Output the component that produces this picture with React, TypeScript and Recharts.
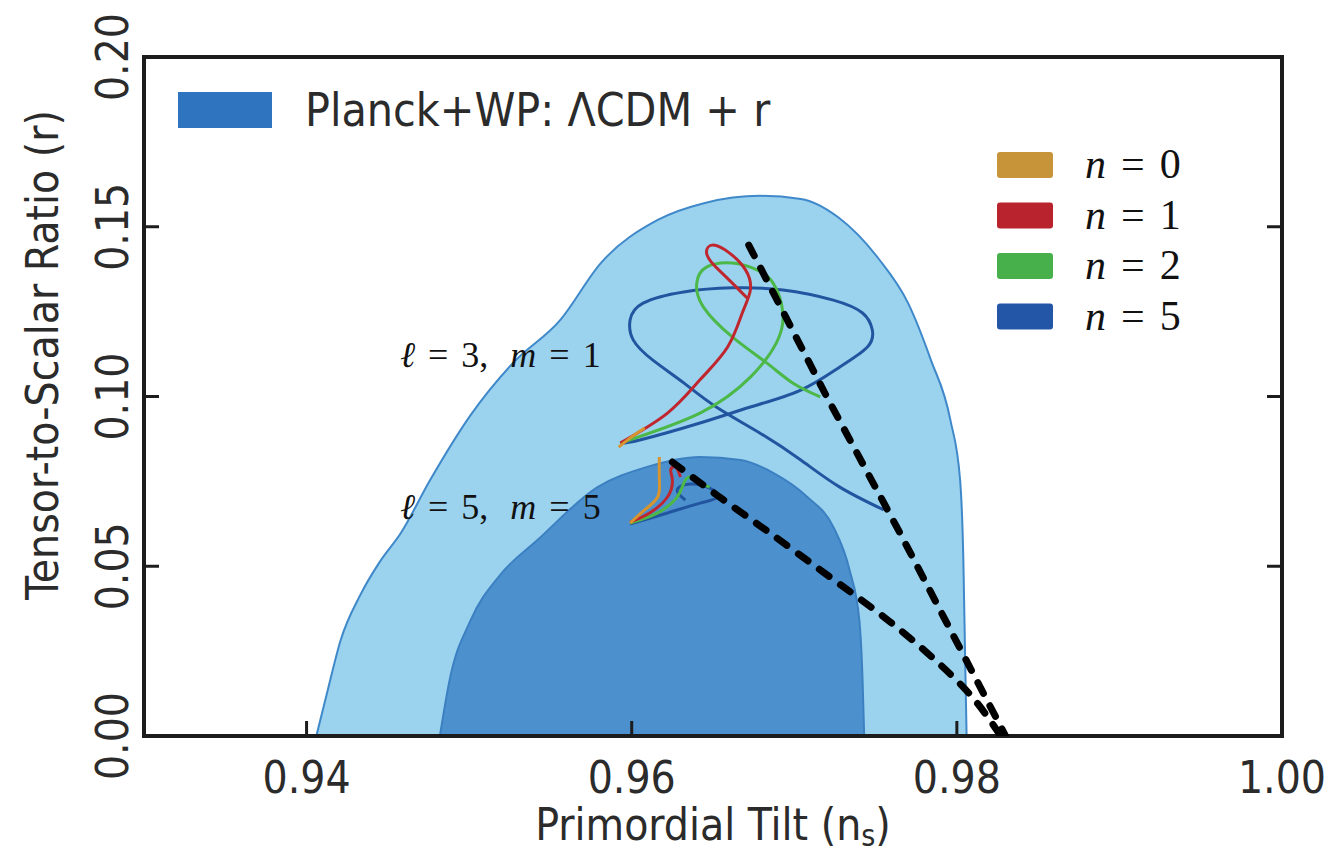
import { ComposedChart, Area, Line, XAxis, YAxis, ReferenceArea } from 'recharts';

/* ───────── Data ───────── */

const X_TICKS = [0.94, 0.96, 0.98, 1.0];
const Y_TICKS = [0, 0.05, 0.1, 0.15, 0.2];
const Y_TICKS_RIGHT = [0.05, 0.1, 0.15];

// Planck+WP contours, upper boundary (lower boundary is r = 0)
const CONTOUR_95 = [
  { ns: 0.9406, r: 0 }, { ns: 0.9413, r: 0.0135 }, { ns: 0.9421, r: 0.0283 },
  { ns: 0.9433, r: 0.0415 }, { ns: 0.9445, r: 0.0513 }, { ns: 0.9458, r: 0.0598 },
  { ns: 0.9476, r: 0.0754 }, { ns: 0.9501, r: 0.0946 }, { ns: 0.9527, r: 0.1099 },
  { ns: 0.9556, r: 0.1225 }, { ns: 0.9581, r: 0.1393 }, { ns: 0.9616, r: 0.152 },
  { ns: 0.9645, r: 0.157 }, { ns: 0.9679, r: 0.1591 }, { ns: 0.9704, r: 0.1582 },
  { ns: 0.9727, r: 0.1528 }, { ns: 0.9752, r: 0.1405 }, { ns: 0.977, r: 0.1275 },
  { ns: 0.9784, r: 0.1108 }, { ns: 0.9796, r: 0.0931 }, { ns: 0.9802, r: 0.0754 },
  { ns: 0.9804, r: 0.0518 }, { ns: 0.9805, r: 0.0253 }, { ns: 0.9806, r: 0 },
];

const CONTOUR_68 = [
  { ns: 0.9482, r: 0 }, { ns: 0.9488, r: 0.0165 }, { ns: 0.9501, r: 0.0342 },
  { ns: 0.9519, r: 0.0474 }, { ns: 0.9542, r: 0.0577 }, { ns: 0.9579, r: 0.0733 },
  { ns: 0.9609, r: 0.0792 }, { ns: 0.9642, r: 0.0822 }, { ns: 0.9667, r: 0.0813 },
  { ns: 0.9687, r: 0.0775 }, { ns: 0.9708, r: 0.0704 }, { ns: 0.9724, r: 0.0616 },
  { ns: 0.9734, r: 0.0489 }, { ns: 0.974, r: 0.0342 }, { ns: 0.9742, r: 0.0165 },
  { ns: 0.9743, r: 0 },
];

// dashed black lines
const DASH_UPPER = [
  { ns: 0.9672, r: 0.1446 }, { ns: 0.972, r: 0.0999 }, { ns: 0.9765, r: 0.0598 }, { ns: 0.983, r: 0 },
];
const DASH_LOWER = [
  { ns: 0.9625, r: 0.0807 }, { ns: 0.9654, r: 0.0704 }, { ns: 0.9685, r: 0.0598 },
  { ns: 0.9722, r: 0.0468 }, { ns: 0.9759, r: 0.0336 }, { ns: 0.979, r: 0.0209 },
  { ns: 0.9811, r: 0.0106 }, { ns: 0.9827, r: 0 },
];

// l = 3, m = 1 trajectories
const L3_N0 = [
  { ns: 0.9592, r: 0.0851 }, { ns: 0.96, r: 0.0881 }, { ns: 0.9608, r: 0.0907 },
];
const L3_N1 = [
  { ns: 0.9593, r: 0.0863 }, { ns: 0.9622, r: 0.0951 }, { ns: 0.9642, r: 0.1049 },
  { ns: 0.9659, r: 0.1146 }, { ns: 0.9668, r: 0.1246 }, { ns: 0.9673, r: 0.1314 },
  { ns: 0.967, r: 0.1373 }, { ns: 0.966, r: 0.1423 }, { ns: 0.965, r: 0.1446 },
  { ns: 0.9646, r: 0.1426 }, { ns: 0.965, r: 0.139 }, { ns: 0.966, r: 0.1343 },
  { ns: 0.9671, r: 0.129 },
];
const L3_N2 = [
  { ns: 0.9593, r: 0.0863 }, { ns: 0.9642, r: 0.0951 }, { ns: 0.9673, r: 0.1057 },
  { ns: 0.9689, r: 0.1158 }, { ns: 0.9693, r: 0.1246 }, { ns: 0.9687, r: 0.1334 },
  { ns: 0.9677, r: 0.1373 }, { ns: 0.9662, r: 0.1393 }, { ns: 0.9646, r: 0.1381 },
  { ns: 0.964, r: 0.1334 }, { ns: 0.9644, r: 0.1264 }, { ns: 0.9662, r: 0.1175 },
  { ns: 0.9683, r: 0.1099 }, { ns: 0.9699, r: 0.104 }, { ns: 0.9716, r: 0.0999 },
];
const L3_N5 = [
  { ns: 0.9593, r: 0.0863 }, { ns: 0.9605, r: 0.0872 }, { ns: 0.9642, r: 0.0922 },
  { ns: 0.9673, r: 0.0969 }, { ns: 0.9704, r: 0.1019 }, { ns: 0.9728, r: 0.1087 },
  { ns: 0.9745, r: 0.1146 }, { ns: 0.9748, r: 0.1196 }, { ns: 0.9742, r: 0.1246 },
  { ns: 0.9724, r: 0.1284 }, { ns: 0.9693, r: 0.1314 }, { ns: 0.9662, r: 0.132 },
  { ns: 0.9632, r: 0.1308 }, { ns: 0.9607, r: 0.1275 }, { ns: 0.9599, r: 0.1225 },
  { ns: 0.9601, r: 0.1166 }, { ns: 0.9613, r: 0.1107 }, { ns: 0.9632, r: 0.104 },
  { ns: 0.9652, r: 0.0969 }, { ns: 0.9679, r: 0.0892 }, { ns: 0.9704, r: 0.0813 },
  { ns: 0.9728, r: 0.0733 }, { ns: 0.9755, r: 0.0666 },
];

// l = 5, m = 5 trajectories
const L5_N0 = [
  { ns: 0.9599, r: 0.0627 }, { ns: 0.9608, r: 0.0666 }, { ns: 0.9616, r: 0.0704 },
  { ns: 0.9617, r: 0.0754 }, { ns: 0.9617, r: 0.0822 },
];
const L5_N1 = [
  { ns: 0.9599, r: 0.063 }, { ns: 0.9611, r: 0.0657 }, { ns: 0.9622, r: 0.0704 },
  { ns: 0.9625, r: 0.0754 }, { ns: 0.9624, r: 0.0784 }, { ns: 0.9627, r: 0.0792 },
  { ns: 0.963, r: 0.0763 },
];
const L5_N2 = [
  { ns: 0.9599, r: 0.0627 }, { ns: 0.9616, r: 0.0657 }, { ns: 0.9628, r: 0.0704 },
  { ns: 0.9632, r: 0.0745 }, { ns: 0.9636, r: 0.0763 }, { ns: 0.9642, r: 0.0745 },
  { ns: 0.9648, r: 0.0733 },
];
const L5_N5 = [
  { ns: 0.9599, r: 0.0624 }, { ns: 0.9622, r: 0.0657 }, { ns: 0.9642, r: 0.0686 },
  { ns: 0.9653, r: 0.0704 }, { ns: 0.9648, r: 0.073 }, { ns: 0.9636, r: 0.0742 },
  { ns: 0.9628, r: 0.0725 }, { ns: 0.9633, r: 0.0695 },
];

const N_LABELS = ['0', '1', '2', '5'];

/* ───────── Theme ───────── */

const COLORS = {
  outer: '#9bd3ef',
  outerEdge: '#3f88c9',
  inner: '#4c91cd',
  innerEdge: '#3c80c2',
  planck: '#2f74bf',
  n0: '#d8942f',
  n1: '#c0262e',
  n2: '#4cb848',
  n5: '#22559f',
  axis: '#1c1c1c',
  text: '#2b2b2b',
};
const LEGEND_SWATCH = ['#c8943a', '#b8232e', '#47b04a', '#2456a8'];

const SANS = "'Liberation Sans Narrow', 'DejaVu Sans Condensed', 'Roboto', sans-serif";
const SERIF = "'Liberation Serif', 'DejaVu Serif', serif";

/* ───────── Ticks ───────── */

function XTick({ x, payload }: any) {
  return (
    <text x={x} y={793} textAnchor="middle" fontFamily={SANS} fontSize={44} fill={COLORS.text}>
      {Number(payload.value).toFixed(2)}
    </text>
  );
}

function YTick({ y, payload }: any) {
  return (
    <text x={128} y={y} transform={`rotate(-90 128 ${y})`} textAnchor="middle" fontFamily={SANS} fontSize={44} fill={COLORS.text}>
      {Number(payload.value).toFixed(2)}
    </text>
  );
}

const curve = (data: any[], color: string, key: string, width = 3) => (
  <Line
    key={key}
    data={data}
    dataKey="r"
    yAxisId="L"
    type="natural"
    stroke={color}
    strokeWidth={width}
    dot={false}
    activeDot={false}
    isAnimationActive={false}
  />
);

function ModelLabel({ y, l, m }: { y: number; l: string; m: string }) {
  return (
    <text x={400} y={y} fontFamily={SERIF} fontSize={36} fill="#111">
      <tspan fontStyle="italic">ℓ</tspan>
      <tspan dx={13}>=</tspan>
      <tspan dx={13}>{l},</tspan>
      <tspan dx={22} fontStyle="italic">m</tspan>
      <tspan dx={13}>=</tspan>
      <tspan dx={13}>{m}</tspan>
    </text>
  );
}

export default function App() {
  return (
    <div style={{ position: 'absolute', left: 0, top: 0, width: 1330, height: 859, background: '#fff' }}>
      <ComposedChart width={1330} height={859} margin={{ top: 57, right: 47, bottom: 122, left: 143 }}>
        <XAxis
          type="number"
          dataKey="ns"
          domain={[0.93, 1.0]}
          ticks={X_TICKS}
          allowDataOverflow
          height={1}
          axisLine={false}
          tickSize={-15}
          tickLine={{ stroke: COLORS.axis, strokeWidth: 3 }}
          tick={(p: any) => <XTick {...p} />}
        />
        <YAxis
          yAxisId="L"
          type="number"
          domain={[0, 0.2]}
          ticks={Y_TICKS}
          allowDataOverflow
          width={1}
          axisLine={false}
          tickSize={-15}
          tickLine={{ stroke: COLORS.axis, strokeWidth: 3 }}
          tick={(p: any) => <YTick {...p} />}
        />
        <YAxis
          yAxisId="R"
          orientation="right"
          type="number"
          domain={[0, 0.2]}
          ticks={Y_TICKS_RIGHT}
          allowDataOverflow
          width={1}
          axisLine={false}
          tickSize={-15}
          tickLine={{ stroke: COLORS.axis, strokeWidth: 3 }}
          tick={() => <g />}
        />

        <Area data={CONTOUR_95} dataKey="r" yAxisId="L" type="monotoneX" fill={COLORS.outer} fillOpacity={1}
          stroke={COLORS.outerEdge} strokeWidth={2} dot={false} activeDot={false} isAnimationActive={false} />
        <Area data={CONTOUR_68} dataKey="r" yAxisId="L" type="monotoneX" fill={COLORS.inner} fillOpacity={1}
          stroke={COLORS.innerEdge} strokeWidth={2} dot={false} activeDot={false} isAnimationActive={false} />

        {curve(L3_N5, COLORS.n5, 'l3n5')}
        {curve(L3_N2, COLORS.n2, 'l3n2')}
        {curve(L3_N1, COLORS.n1, 'l3n1')}
        {curve(L3_N0, COLORS.n0, 'l3n0')}
        {curve(L5_N5, COLORS.n5, 'l5n5')}
        {curve(L5_N2, COLORS.n2, 'l5n2')}
        {curve(L5_N1, COLORS.n1, 'l5n1')}
        {curve(L5_N0, COLORS.n0, 'l5n0')}

        <Line data={DASH_UPPER} dataKey="r" yAxisId="R" type="linear" stroke="#000" strokeWidth={7}
          strokeDasharray="12 14" strokeLinecap="round" dot={false} activeDot={false} isAnimationActive={false} />
        <Line data={DASH_LOWER} dataKey="r" yAxisId="L" type="natural" stroke="#000" strokeWidth={7}
          strokeDasharray="12 14" strokeLinecap="round" dot={false} activeDot={false} isAnimationActive={false} />

        <ReferenceArea yAxisId="L" x1={0.93} x2={1.0} y1={0} y2={0.2} fill="none" fillOpacity={0}
          stroke={COLORS.axis} strokeWidth={4} ifOverflow="visible" />
      </ComposedChart>

      <svg width={1330} height={859} style={{ position: 'absolute', left: 0, top: 0, pointerEvents: 'none' }}>
        {/* axis titles */}
        <text x={713} y={840} textAnchor="middle" fontFamily={SANS} fontSize={44} fill={COLORS.text}>
          Primordial Tilt (n<tspan fontSize={30} dy={6}>s</tspan><tspan dy={-6}>)</tspan>
        </text>
        <text x={58} y={355} transform="rotate(-90 58 355)" textAnchor="middle" fontFamily={SANS} fontSize={44} fill={COLORS.text}>
          Tensor-to-Scalar Ratio (r)
        </text>

        {/* Planck legend */}
        <rect x={178} y={92} width={94} height={36} fill={COLORS.planck} />
        <text x={305} y={126} fontFamily={SANS} fontSize={46} fill={COLORS.text}>Planck+WP: ΛCDM + r</text>

        {/* n legend */}
        {N_LABELS.map((n, i) => (
          <g key={n}>
            <rect x={997} y={152 + i * 50.5} width={56} height={26} rx={3} fill={LEGEND_SWATCH[i]} />
            <text x={1085} y={178 + i * 50.5} fontFamily={SERIF} fontSize={42} fill="#111">
              <tspan fontStyle="italic">n</tspan>
              <tspan dx={15}>=</tspan>
              <tspan dx={15}>{n}</tspan>
            </text>
          </g>
        ))}

        {/* model annotations */}
        <ModelLabel y={367} l="3" m="1" />
        <ModelLabel y={519} l="5" m="5" />
      </svg>
    </div>
  );
}
